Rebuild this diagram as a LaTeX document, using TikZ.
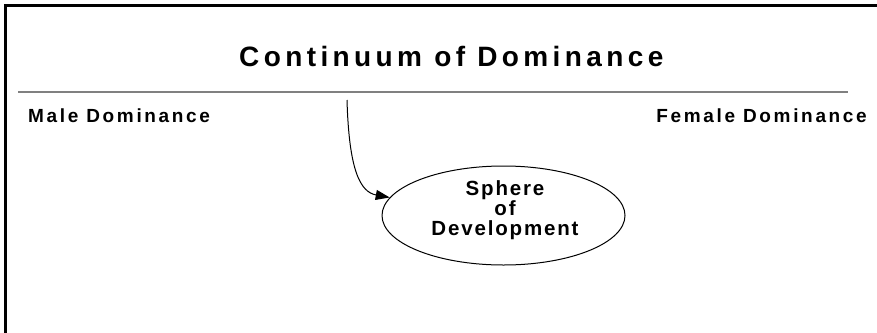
\documentclass[tikz,border=0pt]{standalone}
\usepackage{fontspec}
\usetikzlibrary{shapes.geometric,arrows.meta}
\newfontfamily\titlefont[LetterSpace=15.7]{Liberation Sans}
\newfontfamily\labelfont[LetterSpace=14]{Liberation Sans}
\newfontfamily\spherefont[LetterSpace=9]{Liberation Sans}
\definecolor{rulegray}{RGB}{128,128,128}
\tikzset{
  frameline/.style={line width=3pt, line cap=rect},
  scaleline/.style={rulegray, line width=2pt},
  endlabel/.style={inner sep=0pt, font=\labelfont\bfseries\fontsize{19}{21}\selectfont},
  sphere/.style={ellipse, draw, line width=1pt, minimum width=243pt, minimum height=99pt, inner sep=0pt},
  spheretext/.style={inner sep=0pt, align=center, font=\spherefont\bfseries\fontsize{20.5}{20}\selectfont},
  arr/.style={line width=1pt, -{Triangle[length=14pt,width=10pt]}}
}
\begin{document}
\begin{tikzpicture}[x=1pt,y=-1pt]
\useasboundingbox (0,0) rectangle (877,332);
% frame (top and left only)
\draw[frameline] (877,5.5) -- (5.5,5.5) -- (5.5,340);
% title
\node[inner sep=0pt, anchor=base west, font=\titlefont\bfseries\fontsize{28}{32}\selectfont] (title) at (239,66) {Continuum of Dominance};
% continuum line
\coordinate (lineL) at (18,92);
\coordinate (lineR) at (848,92);
\draw[scaleline] (lineL) -- (lineR);
\node[endlabel, anchor=base west] (male) at (28,122) {Male Dominance};
\node[endlabel, anchor=base east] (female) at (867,122) {Female Dominance};
% sphere
\node[sphere] (sph) at (503.5,215.5) {};
\node[spheretext, anchor=north] (sphtext) at (505,180) {Sphere\\of\\Development};
% arrow
\coordinate (start) at (347,100);
\draw[arr] (start) .. controls (349,170) and (360,192) .. (sph.171);
\end{tikzpicture}
\end{document}
